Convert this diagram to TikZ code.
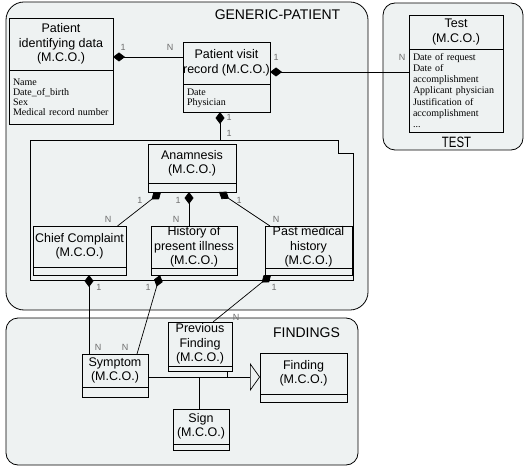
\documentclass[tikz,border=0pt]{standalone}
\usepackage{fontspec}
\setmainfont{Liberation Serif}
\setsansfont{Liberation Sans}
\usepackage{tikz}
\usetikzlibrary{arrows.meta,positioning}
\definecolor{pkgfill}{HTML}{EEF2F2}
\definecolor{multgray}{HTML}{6E6E6E}
\newcommand{\clsfont}{\sffamily\fontsize{12.5}{14.5}\selectfont}
\newcommand{\attrfont}{\rmfamily\fontsize{10}{10}\selectfont}
\newcommand{\multfont}{\sffamily\fontsize{9}{9}\selectfont}
\newcommand{\pkgfont}{\sffamily\fontsize{14}{14}\selectfont}

\begin{document}
\begin{tikzpicture}[x=1pt, y=-1pt,
	pkg/.style={draw, line width=0.8pt, fill=pkgfill},
	mconame/.style={draw, line width=0.8pt, align=center, font=\clsfont, inner sep=0pt, outer sep=0pt},
	mcoattr/.style={draw, line width=0.8pt, align=left, font=\attrfont, inner xsep=4pt, inner ysep=0pt, outer sep=0pt},
	mult/.style={font=\multfont, text=multgray, inner sep=0pt},
	pkgname/.style={font=\pkgfont, inner sep=0pt},
	comp/.style={line width=0.7pt, -{Diamond[length=12pt, width=9pt]}},
	inherit/.style={line width=0.7pt, -{Triangle[open, length=10pt, width=28pt]}},
	link/.style={line width=0.7pt}]
	\useasboundingbox (0,0) rectangle (526,470);
	% packages
	\draw[pkg, rounded corners=18pt] (6,2) rectangle (368,310);
	\draw[pkg, rounded corners=12pt] (383,3) rectangle (523,150);
	\draw[pkg, rounded corners=12pt] (6,318) rectangle (358,465);
	\draw[line width=0.8pt] (30,140) -- (338,140) -- (338,153) -- (353,153) -- (353,280) -- (30,280) -- cycle;
	\coordinate (pkgtop) at (220,140);
	\node[pkgname] (generic) at (277.5,15) {GENERIC-PATIENT};
	\node[pkgname, font=\sffamily\fontsize{15}{15}\selectfont] (testpkg) at (456.5,142.5) {\scalebox{0.76}[1]{TEST}};
	\node[pkgname] (findings) at (306.5,333) {FINDINGS};
	
	% classes
	\node[mconame, minimum width=104, minimum height=52] at (61,44) (pidname) {Patient\\identifying data\\(M.C.O.)};
	\node[mcoattr, text width=96, minimum height=54, below=0pt of pidname] (pidattr) {Name\\Date\_of\_birth\\Sex\\Medical record number};
	\node[mconame, minimum width=87, minimum height=42] at (226.5,63) (pvrname) {Patient visit\\record (M.C.O.)};
	\node[mcoattr, text width=79, minimum height=28, below=0pt of pvrname] (pvrattr) {Date\\Physician};
	\node[mconame, minimum width=94, minimum height=34] at (456,32) (testname) {Test\\(M.C.O.)};
	\node[mcoattr, text width=86, minimum height=83, below=0pt of testname, font=\rmfamily\fontsize{10}{11.2}\selectfont] (testattr) {Date of request\\Date of\\accomplishment\\Applicant physician\\Justification of\\accomplishment\\...};
	\node[mconame, minimum width=88, minimum height=39] at (192,163.5) (ananame) {Anamnesis\\(M.C.O.)};
	\node[mcoattr, text width=80, minimum height=9, below=0pt of ananame] (anaattr) {};
	\node[mconame, minimum width=93, minimum height=41] at (79.5,246.5) (chiefname) {Chief Complaint\\(M.C.O.)};
	\node[mcoattr, text width=85, minimum height=8, below=0pt of chiefname] (chiefattr) {};
	\node[mconame, minimum width=86, minimum height=42] at (194,247) (histname) {History of\\present illness\\(M.C.O.)};
	\node[mcoattr, text width=78, minimum height=7, below=0pt of histname] (histattr) {};
	\node[mconame, minimum width=87, minimum height=42] at (308.5,247) (pastname) {Past medical\\history\\(M.C.O.)};
	\node[mcoattr, text width=79, minimum height=7, below=0pt of pastname] (pastattr) {};
	\node[mconame, minimum width=64, minimum height=44] at (200,344) (prevname) {Previous\\Finding\\(M.C.O.)};
	\node[mcoattr, text width=56, minimum height=5, below=0pt of prevname] (prevattr) {};
	\node[mconame, minimum width=66, minimum height=33] at (115,370.5) (symname) {Symptom\\(M.C.O.)};
	\node[mcoattr, text width=58, minimum height=10, below=0pt of symname] (symattr) {};
	\node[mconame, minimum width=87, minimum height=41] at (303.5,373.5) (findname) {Finding\\(M.C.O.)};
	\node[mcoattr, text width=79, minimum height=8, below=0pt of findname] (findattr) {};
	\node[mconame, minimum width=56, minimum height=35] at (201,426.5) (signname) {Sign\\(M.C.O.)};
	\node[mcoattr, text width=48, minimum height=6, below=0pt of signname] (signattr) {};
	
	% connectors
	\draw[comp] ([yshift=6pt]pvrname.west) -- ([yshift=6pt]pvrname.west -| pidname.east);
	\draw[comp] ([yshift=-9pt]pvrname.east -| testattr.west) -- ([yshift=-9pt]pvrname.east);
	\draw[comp] (pkgtop) -- (pkgtop |- pvrattr.south);
	\draw[comp] ([xshift=38pt]chiefname.north) -- ([xshift=-31pt]anaattr.south);
	\draw[comp] ([xshift=-5pt]histname.north) -- ([xshift=-5pt]histname.north |- anaattr.south);
	\draw[comp] ([xshift=-38.5pt]pastname.north) -- ([xshift=27pt]anaattr.south);
	\draw[comp] ([xshift=9.5pt]chiefattr.south |- symname.north) -- ([xshift=9.5pt]chiefattr.south);
	\draw[comp] ([xshift=22pt]symname.north) -- ([xshift=-34pt]histattr.south);
	\draw[comp] ([xshift=13pt]prevname.north) -- ([xshift=-37.5pt]pastattr.south);
	\coordinate (genjoin) at ([yshift=-6.5pt]symname.east);
	\draw[inherit] (genjoin) -- (genjoin -| findname.west);
	\draw[link] ([xshift=27pt]prevattr.south) -- ([xshift=27pt]prevattr.south |- genjoin);
	\draw[link] ([xshift=-2pt]signname.north) -- ([xshift=-2pt]signname.north |- genjoin);
	
	% multiplicities
	\node[mult] (pidone) at (123,47) {1};
	\node[mult] (pvrmany) at (170,47) {N};
	\node[mult] (pvrone) at (276,57) {1};
	\node[mult] (testmany) at (402,57) {N};
	\node[mult] (pvrbelow) at (229,117) {1};
	\node[mult] (pkgone) at (229,133) {1};
	\node[mult] (anaonea) at (140,200) {1};
	\node[mult] (chiefmany) at (108,219) {N};
	\node[mult] (anaoneb) at (178,200) {1};
	\node[mult] (histmany) at (176,219) {N};
	\node[mult] (anaonec) at (239,200) {1};
	\node[mult] (pastmany) at (276,219) {N};
	\node[mult] (chiefone) at (99,287) {1};
	\node[mult] (symmanya) at (98,347) {N};
	\node[mult] (histone) at (148,287) {1};
	\node[mult] (symmanyb) at (125,347) {N};
	\node[mult] (pastone) at (274,287) {1};
	\node[mult] (prevmany) at (236,317) {N};
\end{tikzpicture}
\end{document}
